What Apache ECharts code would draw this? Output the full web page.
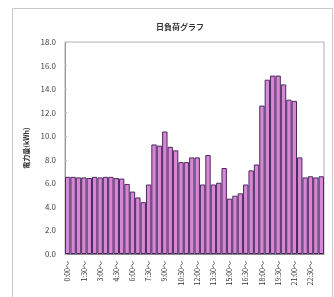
<!DOCTYPE html>
<html>
<head>
<meta charset="utf-8">
<script src="https://cdn.jsdelivr.net/npm/echarts@6/dist/echarts.min.js"></script>
<style>
  html, body { margin: 0; padding: 0; background: #fff; }
  #chart { width: 334px; height: 297px; }
</style>
</head>
<body>
<div id="chart"></div>
<script>
// half-hour slots, 0:00 ~ 23:30
const slots = [];
for (let h = 0; h < 24; h++) {
  slots.push(h + ':00～');
  slots.push(h + ':30～');
}

// kWh per slot
const loads = [
  6.55, 6.55, 6.5, 6.5, 6.45, 6.55, 6.5, 6.55, 6.55, 6.45, 6.4, 5.95,
  5.3, 4.8, 4.4, 5.9, 9.3, 9.2, 10.4, 9.1, 8.8, 7.8, 7.8, 8.2,
  8.2, 5.9, 8.4, 5.9, 6.05, 7.3, 4.7, 4.95, 5.15, 5.9, 7.1, 7.6,
  12.6, 14.8, 15.15, 15.15, 14.4, 13.1, 13.0, 8.2, 6.5, 6.6, 6.5, 6.6
];

const titleText = '日負荷グラフ';
const yName = '電力量(kWh)';

const font = '"Noto Sans CJK JP", "DejaVu Sans", sans-serif';

const chart = echarts.init(document.getElementById('chart'), null, {renderer: 'canvas'});

chart.setOption({
  animation: false,
  textStyle: {fontFamily: font},
  title: {
    text: titleText,
    left: 175,
    top: 18,
    textAlign: 'center',
    textStyle: {fontSize: 8, fontWeight: 'bold', color: '#333', fontFamily: font}
  },
  graphic: [{
    type: 'rect',
    shape: {x: 12.5, y: 8.5, width: 320, height: 300},
    style: {fill: 'none', stroke: '#c8c8c8', lineWidth: 1},
    silent: true
  }],
  grid: {
    left: 65,
    right: 10,
    top: 42,
    bottom: 43,
    show: true,
    borderColor: '#b0b0b0',
    borderWidth: 1
  },
  xAxis: {
    type: 'category',
    data: slots,
    axisLine: {lineStyle: {color: '#888'}},
    axisTick: {show: false},
    axisLabel: {
      interval: 2,
      rotate: 90,
      fontSize: 7,
      color: '#333',
      margin: 7,
      fontFamily: font
    }
  },
  yAxis: {
    type: 'value',
    min: 0,
    max: 18,
    interval: 2,
    name: yName,
    nameLocation: 'middle',
    nameGap: 33,
    nameTextStyle: {fontSize: 7, fontWeight: 'bold', color: '#333', fontFamily: font},
    axisLine: {show: true, lineStyle: {color: '#999'}},
    axisTick: {show: true, inside: true, length: 2, lineStyle: {color: '#bbb'}},
    splitLine: {show: false},
    axisLabel: {
      fontSize: 8,
      color: '#444',
      margin: 9,
      formatter: v => v.toFixed(1),
      fontFamily: font
    }
  },
  series: [{
    type: 'bar',
    data: loads,
    barCategoryGap: '0%',
    itemStyle: {
      color: '#d886d6',
      borderColor: '#4a2a5c',
      borderWidth: 1
    }
  }]
});
</script>
</body>
</html>
